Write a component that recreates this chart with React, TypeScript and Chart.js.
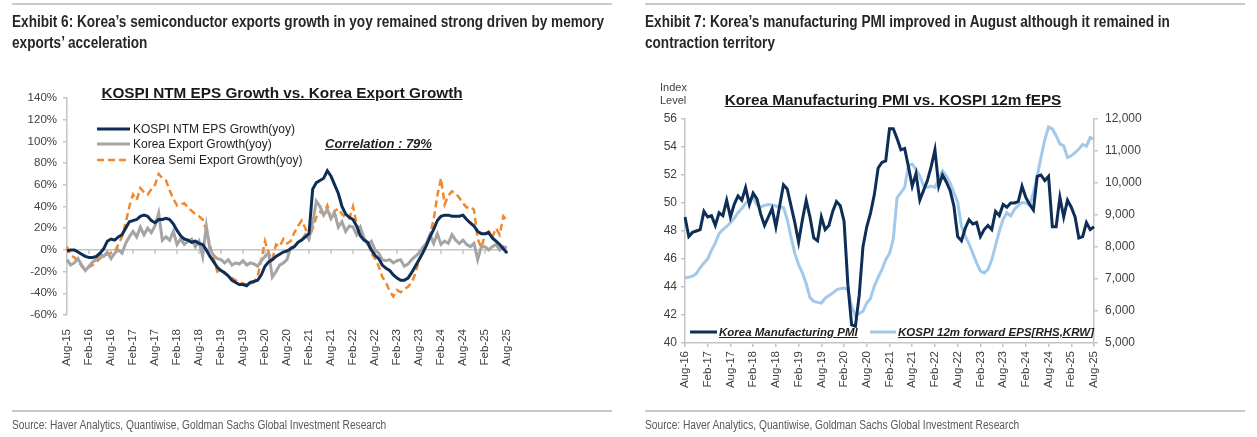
import React, { useEffect, useRef } from "react";
import { Chart, registerables } from "chart.js";

Chart.register(...registerables);

// ---------- Data ----------
const MONTH_NAMES = ["Jan", "Feb", "Mar", "Apr", "May", "Jun", "Jul", "Aug", "Sep", "Oct", "Nov", "Dec"];

function monthRange(startYear: number, startMonth: number, count: number): string[] {
  const out: string[] = [];
  for (let i = 0; i < count; i++) {
    const m = (startMonth + i) % 12;
    const y = startYear + Math.floor((startMonth + i) / 12);
    out.push(`${MONTH_NAMES[m]}-${String(y % 100).padStart(2, "0")}`);
  }
  return out;
}

// Exhibit 6: Aug-15 .. Aug-25, monthly
const exhibit6Months = monthRange(2015, 7, 121);

// KOSPI NTM EPS growth, yoy %
const epsGrowthYoY = [
  -1, 0, 0, -2, -4, -6, -7, -7, -6, -3,
  1, 8, 10, 9, 12, 14, 20, 26, 27, 28,
  31, 32, 31, 27, 25, 28, 28, 29, 28, 24,
  18, 13, 10, 9, 7, 8, 6, 5, 0, -6,
  -11, -16, -19, -21, -24, -28, -30, -32, -32, -33,
  -30, -29, -28, -23, -15, -11, -9, -6, -4, -2,
  -1, 1, 3, 7, 9, 12, 15, 56, 62, 64,
  66, 73, 68, 60, 52, 40, 33, 30, 28, 22,
  13, 9, 7, 0, -5, -8, -14, -17, -19, -23,
  -26, -28, -28, -26, -21, -15, -9, -3, 4, 12,
  19, 27, 31, 32, 32, 31, 31, 31, 32, 28,
  25, 22, 17, 15, 15, 16, 11, 8, 5, 1,
  -3,
];

// Korea export growth, yoy %
const exportGrowthYoY = [
  -9, -14, -12, -8, -14, -19, -15, -11, -9, -4,
  -6, -2, -8, -3, 0, -3, 6, 12, 17, 12,
  21, 14, 20, 16, 22, 34, 9, 12, 9, 17,
  5, 10, 5, 8, 10, 3, 8, -6, 22, 0,
  -5, -8, -9, -12, -9, -14, -12, -13, -10, -14,
  -12, -13, -15, -10, -6, -3, -25, -20, -14, -12,
  -9, 2, 3, 7, 9, 14, 10, 25, 45, 40,
  32, 37, 29, 34, 21, 26, 17, 22, 21, 14,
  21, 11, 5, 8, 0, -3, -9, -10, -9, -12,
  -10, -9, -15, -13, -9, -6, -3, 2, 6, 14,
  6, 15, 5, 8, 6, 14, 9, 6, 9, 5,
  3, 6, -9, 3, 3, 0, 3, 5, 0, 3,
  2,
];

// Korea semiconductor export growth, yoy %
const semiExportGrowthYoY = [
  3, -5, -7, -10, -15, -18, -16, -14, -11, -8,
  -5, -4, -3, -2, 5, 12, 25, 40, 51, 46,
  57, 53, 51, 56, 60, 70, 66, 64, 55, 47,
  41, 42, 43, 39, 36, 33, 31, 28, 18, 4,
  -8, -20, -18, -22, -24, -26, -28, -30, -31, -32,
  -31, -30, -24, -9, 8, -3, -9, 5, 3, 10,
  6, 8, 16, 22, 27, 20, 10, 20, 30, 35,
  33, 41, 29, 36, 38, 33, 30, 29, 40, 24,
  14, 10, 8, -3, -8, -15, -25, -30, -38, -43,
  -37, -39, -36, -34, -30, -22, -9, -3, 5, 14,
  28, 50, 66, 42, 50, 54, 52, 48, 43, 39,
  40, 37, 10, 2, 14, 17, 12, 20, 14, 31,
  27,
];

// Exhibit 7: Aug-16 .. Aug-25, monthly
const exhibit7Months = monthRange(2016, 7, 109);

// Korea manufacturing PMI, index level
const pmiIndex = [
  49.0, 47.6, 47.9, 48.0, 48.1, 49.4, 49.0, 49.1, 48.4, 49.3,
  49.1, 50.2, 49.0, 49.9, 50.5, 50.2, 51.1, 49.9, 50.7, 50.3,
  49.2, 48.4, 49.0, 49.6, 48.3, 49.8, 51.3, 51.0, 49.8, 48.6,
  47.2, 48.8, 50.2, 49.0, 47.5, 47.3, 49.0, 48.1, 48.4, 49.4,
  50.1, 49.8, 48.7, 44.2, 41.3, 41.2, 43.4, 46.9, 48.3, 49.3,
  50.6, 52.5, 52.9, 53.0, 55.3, 55.3, 54.6, 53.8, 53.9, 52.6,
  51.2, 52.1, 50.2, 50.9, 51.6, 52.6, 53.8, 51.2, 52.0, 51.5,
  50.9, 49.8, 47.6, 47.3, 48.2, 48.8, 48.5, 48.6, 47.6, 48.1,
  48.4, 48.1, 49.4, 49.1, 49.9, 49.7, 50.0, 50.0, 50.1, 51.2,
  50.4, 49.9, 49.5, 51.9, 52.0, 51.6, 51.9, 48.3, 48.3, 50.4,
  49.0, 50.2, 49.7, 49.0, 47.5, 47.6, 48.6, 48.1, 48.3,
];

// KOSPI 12m forward EPS, KRW (right axis)
const kospiFwdEps = [
  7030, 7060, 7090, 7170, 7350, 7500, 7630, 7900, 8130, 8420,
  8540, 8640, 8760, 8900, 9070, 9200, 9360, 9480, 9540, 9320,
  9250, 9300, 9330, 9310, 9280, 9250, 9230, 8860, 8300, 7800,
  7450, 7190, 6850, 6420, 6300, 6270, 6250, 6400, 6480, 6560,
  6660, 6700, 6720, 6670, 6150, 5850, 5920, 5990, 6250, 6400,
  6780, 7050, 7290, 7600, 7800, 8250, 9540, 9700, 9860, 10540,
  10590, 10430, 10220, 9910, 9860, 9900, 9860, 10120, 10380, 10220,
  10000, 9700, 9400, 8650, 8340, 8100, 7800, 7500, 7250, 7190,
  7290, 7600, 8050, 8500, 8860, 9070, 8970, 9180, 9300, 9390,
  9380, 9300, 9700, 10200, 10800, 11350, 11750, 11690, 11480, 11220,
  11160, 10800, 10850, 10950, 11060, 11210, 11150, 11420, 11370,
];

// ---------- Styles ----------
const ARIAL = '"Liberation Sans", Arial, Helvetica, sans-serif';
const NARROW_SCALE = 0.85; // narrow face: Arial compressed horizontally
const AXIS_GRAY = "#c4c4c4";
const TICK_TEXT = "#404040";
const NAVY = "#0e2d57";
const GRAY = "#a5a5a5";
const ORANGE = "#f0882c";
const LIGHT_BLUE = "#a3c9ea";
const RULE = "#c6cace";

const tickFont = { family: ARIAL, size: 11.5 };

// Keep only every sixth month (Aug / Feb) as a tick
function everySixMonths(scale: any) {
  scale.ticks = scale.ticks.filter((t: any) => t.value % 6 === 0);
}

// Short tick marks hanging under the 0% line
const zeroLineTicks = {
  id: "zeroLineTicks",
  beforeDatasetsDraw(chart: any) {
    const { ctx, scales } = chart;
    const x = scales.x;
    const y0 = scales.y.getPixelForValue(0);
    ctx.save();
    ctx.strokeStyle = AXIS_GRAY;
    ctx.lineWidth = 1.5;
    x.ticks.forEach((_t: any, i: number) => {
      const px = x.getPixelForTick(i);
      ctx.beginPath();
      ctx.moveTo(px, y0);
      ctx.lineTo(px, y0 + 4);
      ctx.stroke();
    });
    ctx.restore();
  },
};

function GrowthChart() {
  const ref = useRef<HTMLCanvasElement | null>(null);
  useEffect(() => {
    if (!ref.current) return;
    const chart = new Chart(ref.current, {
      type: "line",
      data: {
        labels: exhibit6Months,
        datasets: [
          { label: "KOSPI NTM EPS Growth(yoy)", data: epsGrowthYoY, borderColor: NAVY, borderWidth: 3 },
          { label: "Korea Export Growth(yoy)", data: exportGrowthYoY, borderColor: GRAY, borderWidth: 3 },
          {
            label: "Korea Semi Export Growth(yoy)",
            data: semiExportGrowthYoY,
            borderColor: ORANGE,
            borderWidth: 2.5,
            borderDash: [7, 4],
          },
        ],
      },
      options: {
        animation: false,
        responsive: false,
        devicePixelRatio: 1,
        layout: { padding: { left: 17, right: 121, top: 98, bottom: 62 } },
        elements: { point: { radius: 0 }, line: { tension: 0, borderCapStyle: "butt" } },
        plugins: { legend: { display: false }, tooltip: { enabled: false }, title: { display: false } },
        scales: {
          x: {
            type: "category",
            grid: { display: false },
            border: { display: false },
            ticks: {
              autoSkip: false,
              minRotation: 90,
              maxRotation: 90,
              padding: 6,
              font: tickFont,
              color: TICK_TEXT,
            },
            afterBuildTicks: everySixMonths,
            afterFit: (s: any) => {
              s.height = 60;
            },
          },
          y: {
            min: -60,
            max: 140,
            ticks: {
              stepSize: 20,
              padding: 6,
              font: tickFont,
              color: TICK_TEXT,
              callback: (v: any) => `${v}%`,
            },
            grid: {
              color: (c: any) => (c.tick && c.tick.value === 0 ? AXIS_GRAY : "rgba(0,0,0,0)"),
              tickColor: AXIS_GRAY,
              tickLength: 4,
              lineWidth: 1.5,
            },
            border: { color: AXIS_GRAY, width: 1.5 },
            afterFit: (s: any) => {
              s.width = 50;
            },
          },
        },
      },
      plugins: [zeroLineTicks],
    } as any);
    return () => chart.destroy();
  }, []);
  return (
    <canvas
      ref={ref}
      width={628}
      height={437}
      style={{ position: "absolute", left: 0, top: 0, width: 628, height: 437 }}
    />
  );
}

function PmiChart() {
  const ref = useRef<HTMLCanvasElement | null>(null);
  useEffect(() => {
    if (!ref.current) return;
    const axisGrid = { drawOnChartArea: false, color: AXIS_GRAY, tickLength: 4, lineWidth: 1.5 };
    const chart = new Chart(ref.current, {
      type: "line",
      data: {
        labels: exhibit7Months,
        datasets: [
          { label: "Korea Manufacturing PMI", data: pmiIndex, borderColor: NAVY, borderWidth: 3, yAxisID: "y" },
          {
            label: "KOSPI 12m forward EPS[RHS,KRW]",
            data: kospiFwdEps,
            borderColor: LIGHT_BLUE,
            borderWidth: 3,
            yAxisID: "y1",
          },
        ],
      },
      options: {
        animation: false,
        responsive: false,
        devicePixelRatio: 1,
        layout: { padding: { left: 27, right: 113, top: 119, bottom: 39 } },
        elements: { point: { radius: 0 }, line: { tension: 0 } },
        plugins: { legend: { display: false }, tooltip: { enabled: false }, title: { display: false } },
        scales: {
          x: {
            type: "category",
            grid: axisGrid,
            border: { color: AXIS_GRAY, width: 1.5 },
            ticks: {
              autoSkip: false,
              minRotation: 90,
              maxRotation: 90,
              padding: 4,
              font: tickFont,
              color: TICK_TEXT,
            },
            afterBuildTicks: everySixMonths,
            afterFit: (s: any) => {
              s.height = 55;
            },
          },
          y: {
            position: "left",
            min: 40,
            max: 56,
            ticks: { stepSize: 2, padding: 4, font: { family: ARIAL, size: 12 }, color: TICK_TEXT },
            grid: axisGrid,
            border: { color: AXIS_GRAY, width: 1.5 },
            afterFit: (s: any) => {
              s.width = 30;
            },
          },
          y1: {
            position: "right",
            min: 5000,
            max: 12000,
            ticks: {
              stepSize: 1000,
              padding: 7,
              font: { family: ARIAL, size: 12 },
              color: TICK_TEXT,
              callback: (v: any) => Number(v).toLocaleString("en-US"),
            },
            grid: axisGrid,
            border: { color: AXIS_GRAY, width: 1.5 },
            afterFit: (s: any) => {
              s.width = 50;
            },
          },
        },
      },
    } as any);
    return () => chart.destroy();
  }, []);
  return (
    <canvas
      ref={ref}
      width={629}
      height={437}
      style={{ position: "absolute", left: 628, top: 0, width: 629, height: 437 }}
    />
  );
}

// ---------- Small text helpers ----------
function Swatch({ x, cy, w, color, dash, width = 3 }: { x: number; cy: number; w: number; color: string; dash?: string; width?: number }) {
  return (
    <svg style={{ position: "absolute", left: x, top: cy - 4 }} width={w} height={8}>
      <line x1={0} y1={4} x2={w} y2={4} stroke={color} strokeWidth={width} strokeDasharray={dash} />
    </svg>
  );
}

function Label({
  x,
  cy,
  size,
  children,
  style,
}: {
  x: number;
  cy: number;
  size: number;
  children: React.ReactNode;
  style?: React.CSSProperties;
}) {
  const h = Math.round(size * 1.3);
  return (
    <div
      style={{
        position: "absolute",
        left: x,
        top: cy - h / 2,
        height: h,
        lineHeight: `${h}px`,
        fontSize: size,
        fontFamily: ARIAL,
        whiteSpace: "nowrap",
        color: "#1f1f1f",
        ...style,
      }}
    >
      {children}
    </div>
  );
}

const ruleStyle = (left: number, top: number): React.CSSProperties => ({
  position: "absolute",
  left,
  top,
  width: 600,
  height: 2,
  background: RULE,
});

const exhibitTitle = (left: number): React.CSSProperties => ({
  position: "absolute",
  left,
  top: 11,
  fontFamily: ARIAL,
  fontWeight: "bold",
  fontSize: 16,
  lineHeight: "21px",
  color: "#262626",
  whiteSpace: "nowrap",
  transform: `scaleX(${NARROW_SCALE})`,
  transformOrigin: "left top",
});

const sourceStyle = (left: number): React.CSSProperties => ({
  position: "absolute",
  left,
  top: 418,
  fontFamily: ARIAL,
  fontSize: 12,
  lineHeight: "14px",
  color: "#595959",
  whiteSpace: "nowrap",
  transform: `scaleX(${NARROW_SCALE})`,
  transformOrigin: "left top",
});

const SOURCE_TEXT = "Source: Haver Analytics, Quantiwise, Goldman Sachs Global Investment Research";

export default function App() {
  return (
    <div
      style={{
        position: "absolute",
        left: 0,
        top: 0,
        width: 1257,
        height: 437,
        background: "#ffffff",
        overflow: "hidden",
      }}
    >
      <GrowthChart />
      <PmiChart />

      {/* Exhibit 6 */}
      <div style={ruleStyle(12, 3)} />
      <div style={exhibitTitle(12)}>
        Exhibit 6: Korea’s semiconductor exports growth in yoy remained strong driven by memory
        <br />
        exports’ acceleration
      </div>
      <div
        style={{
          position: "absolute",
          left: 82,
          width: 400,
          top: 84,
          textAlign: "center",
          fontFamily: ARIAL,
          fontWeight: "bold",
          fontSize: 15.3,
          lineHeight: "18px",
          textDecoration: "underline",
          color: "#1a1a1a",
          whiteSpace: "nowrap",
        }}
      >
        KOSPI NTM EPS Growth vs. Korea Export Growth
      </div>
      <Swatch x={97} cy={129} w={33} color={NAVY} />
      <Label x={133} cy={129} size={12}>KOSPI NTM EPS Growth(yoy)</Label>
      <Swatch x={97} cy={144} w={33} color={GRAY} />
      <Label x={133} cy={144} size={12}>Korea Export Growth(yoy)</Label>
      <Swatch x={97} cy={160} w={33} color={ORANGE} dash="7 4" width={2.5} />
      <Label x={133} cy={160} size={12}>Korea Semi Export Growth(yoy)</Label>
      <Label
        x={325}
        cy={143}
        size={13}
        style={{ fontWeight: "bold", fontStyle: "italic", textDecoration: "underline" }}
      >
        Correlation : 79%
      </Label>
      <div style={ruleStyle(12, 410)} />
      <div style={sourceStyle(12)}>{SOURCE_TEXT}</div>

      {/* Exhibit 7 */}
      <div style={ruleStyle(645, 3)} />
      <div style={exhibitTitle(645)}>
        Exhibit 7: Korea’s manufacturing PMI improved in August although it remained in
        <br />
        contraction territory
      </div>
      <div
        style={{
          position: "absolute",
          left: 660,
          top: 80.5,
          fontFamily: ARIAL,
          fontSize: 11,
          lineHeight: "13px",
          color: "#404040",
        }}
      >
        Index
        <br />
        Level
      </div>
      <div
        style={{
          position: "absolute",
          left: 693,
          width: 400,
          top: 91,
          textAlign: "center",
          fontFamily: ARIAL,
          fontWeight: "bold",
          fontSize: 15.3,
          lineHeight: "18px",
          textDecoration: "underline",
          color: "#1a1a1a",
          whiteSpace: "nowrap",
        }}
      >
        Korea Manufacturing PMI vs. KOSPI 12m fEPS
      </div>
      <Swatch x={690} cy={332} w={27} color={NAVY} />
      <Label
        x={719}
        cy={332}
        size={11.5}
        style={{ fontWeight: "bold", fontStyle: "italic", textDecoration: "underline" }}
      >
        Korea Manufacturing PMI
      </Label>
      <Swatch x={870} cy={332} w={26} color={LIGHT_BLUE} />
      <Label
        x={898}
        cy={332}
        size={11.5}
        style={{ fontWeight: "bold", fontStyle: "italic", textDecoration: "underline" }}
      >
        KOSPI 12m forward EPS[RHS,KRW]
      </Label>
      <div style={ruleStyle(645, 410)} />
      <div style={sourceStyle(645)}>{SOURCE_TEXT}</div>
    </div>
  );
}
